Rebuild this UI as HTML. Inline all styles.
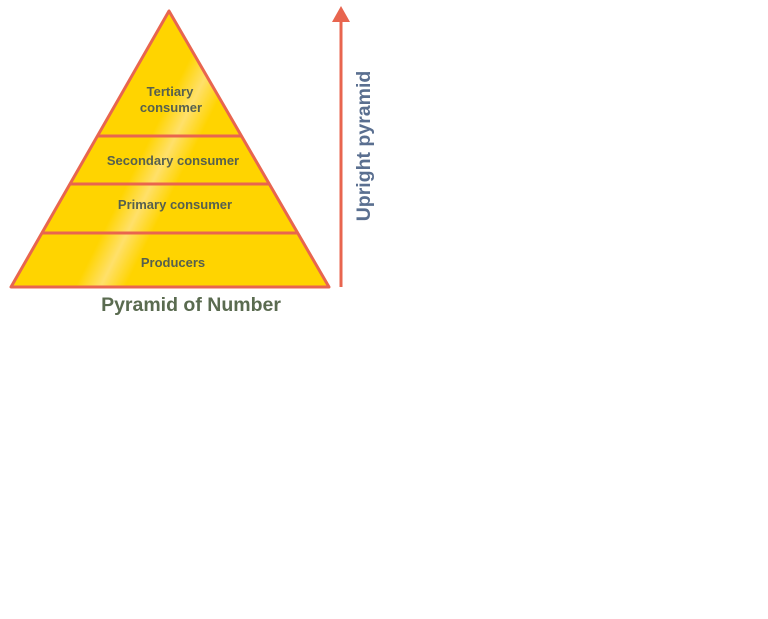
<!DOCTYPE html>
<html><head><style>
body{margin:0;background:#fff;width:768px;height:614px;overflow:hidden}
svg text{font-family:"Liberation Sans",sans-serif;font-weight:bold}
</style></head><body>
<svg width="768" height="614" xmlns="http://www.w3.org/2000/svg">
<defs>
<linearGradient id="g" gradientUnits="userSpaceOnUse" x1="100" y1="150" x2="200" y2="200">
<stop offset="0" stop-color="#ffd400"/>
<stop offset="0.35" stop-color="#ffd400"/>
<stop offset="0.55" stop-color="#ffe06a"/>
<stop offset="0.75" stop-color="#ffd400"/>
<stop offset="1" stop-color="#ffd400"/>
</linearGradient>
</defs>
<polygon points="169,11 11,287 329,287" fill="url(#g)" stroke="#e8654f" stroke-width="3" stroke-linejoin="round"/>
<line x1="98" y1="136" x2="241" y2="136" stroke="#e8654f" stroke-width="3"/>
<line x1="71" y1="184" x2="269" y2="184" stroke="#e8654f" stroke-width="3"/>
<line x1="42" y1="233" x2="298" y2="233" stroke="#e8654f" stroke-width="3"/>
<g fill="#56604f" font-size="13" text-anchor="middle">
<text x="170" y="96">Tertiary</text>
<text x="171" y="112">consumer</text>
<text x="173" y="165">Secondary consumer</text>
<text x="175" y="209">Primary consumer</text>
<text x="173" y="267">Producers</text>
</g>
<text x="191" y="311" font-size="19.5" fill="#5a6b50" text-anchor="middle">Pyramid of Number</text>
<line x1="341" y1="287" x2="341" y2="20" stroke="#e8654f" stroke-width="3"/>
<polygon points="341,6 332,22 350,22" fill="#e8654f"/>
<text transform="translate(370,146) rotate(-90)" font-size="19.5" fill="#5a6f90" text-anchor="middle">Upright pyramid</text>
</svg>
</body></html>
